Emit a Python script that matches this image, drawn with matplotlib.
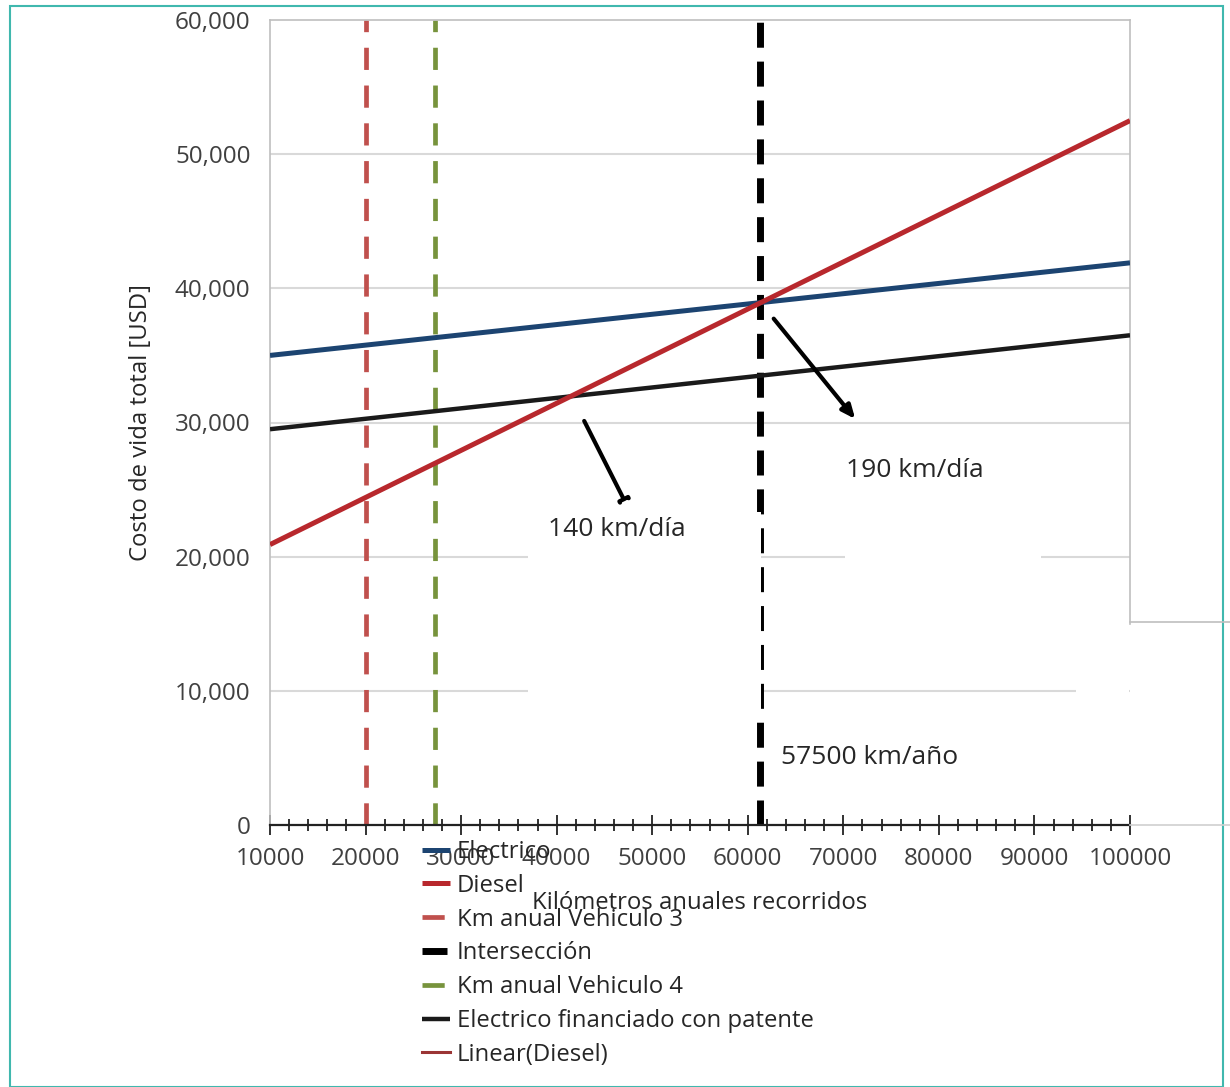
import matplotlib
matplotlib.use("Agg")
import matplotlib.pyplot as plt
from matplotlib.lines import Line2D
from matplotlib.patches import Rectangle
import numpy as np

plt.rcParams['font.family'] = ['Open Sans', 'DejaVu Sans']

# ---- data ----
km = [10000, 100000]
electrico = [35000, 41900]
diesel = [20900, 52500]
electrico_fin = [29500, 36500]
km_vehiculo3 = 20000
km_vehiculo4 = 27300
interseccion = 61300
x_ticks = [10000, 20000, 30000, 40000, 50000, 60000, 70000, 80000, 90000, 100000]
y_ticks = [0, 10000, 20000, 30000, 40000, 50000, 60000]

W, H = 1230, 1087
fig = plt.figure(figsize=(W/100, H/100), dpi=100)
ax = fig.add_axes([270/W, 1-825/H, 860/W, 805/H])
ax.set_xlim(10000, 100000)
ax.set_ylim(0, 60000)

# grid
for yv in y_ticks[1:-1]:
    ax.axhline(yv, color='#d9d9d9', lw=1.5, zorder=0)

c_blue = '#1c4471'
c_red = '#b8282d'
c_red_l = '#c0504d'
c_green = '#77933c'
c_black = '#1a1a1a'

ax.plot(km, electrico, color=c_blue, lw=3.6, label='Electrico', zorder=3, solid_capstyle='butt')
ax.plot(km, diesel, color=c_red, lw=3.6, label='Diesel', zorder=4, solid_capstyle='butt')
ax.axvline(km_vehiculo3, color=c_red_l, lw=3.4, dashes=(4.7, 3.3), label='Km anual Vehiculo 3', zorder=2)
ax.axvline(interseccion, color='#000000', lw=5, dashes=(3.6, 2.0), label='Intersección', zorder=2)
ax.axvline(km_vehiculo4, color=c_green, lw=3.4, dashes=(4.7, 3.3), label='Km anual Vehiculo 4', zorder=2)
ax.plot(km, electrico_fin, color=c_black, lw=3.2, label='Electrico financiado con patente', zorder=3, solid_capstyle='butt')
ax.plot([], [], color='#9b3535', lw=2.2, label='Linear(Diesel)')

# white masks (text boxes in original)
def px_rect(x0, y0, x1, y1):
    return Rectangle((x0/W, 1-y1/H), (x1-x0)/W, (y1-y0)/H, transform=fig.transFigure,
                     facecolor='white', edgecolor='none', zorder=5)
ax.add_patch(px_rect(528, 512, 761, 722))
ax.add_patch(px_rect(845, 480, 1041, 600))
ax.add_patch(px_rect(1076, 640, 1129, 740))

# annotations
ax.annotate('', xy=(47150, 24100), xytext=(42750, 30300),
            arrowprops=dict(arrowstyle='-[, widthB=0.35, lengthB=0.1', color='black', lw=3), zorder=6)
ax.annotate('', xy=(71430, 30100), xytext=(62530, 37900),
            arrowprops=dict(arrowstyle='-|>, head_width=0.35, head_length=0.8', color='black', lw=3), zorder=6)
ax.text(39100, 22000, '140 km/día', fontsize=19, color='#262626', va='center', ha='left', zorder=7)
ax.text(70300, 26400, '190 km/día', fontsize=19, color='#262626', va='center', ha='left', zorder=7)
ax.text(63500, 5050, '57500 km/año', fontsize=19, color='#262626', va='center', ha='left', zorder=7)

# spines
for s in ['top', 'left', 'right']:
    ax.spines[s].set_color('#bfbfbf')
    ax.spines[s].set_linewidth(1.2)
ax.spines['right'].set_bounds(15000, 60000)
ax.spines['bottom'].set_color('#222222')
ax.spines['bottom'].set_linewidth(1.6)

fig.add_artist(Line2D([1130/W, 1230/W], [1-622/H, 1-622/H], color='#bfbfbf', lw=1.2))
fig.add_artist(Line2D([1130/W, 1230/W], [1-825/H, 1-825/H], color='#cfcfcf', lw=1.2))

ax.set_xticks(x_ticks)
ax.set_xticklabels([str(v) for v in x_ticks])
ax.set_xticks(np.arange(10000, 100001, 2000), minor=True)
ax.set_yticks(y_ticks)
ax.set_yticklabels(['0'] + [f'{v:,}' for v in y_ticks[1:]])
ax.tick_params(axis='x', which='major', direction='inout', length=15, width=1.3, color='#222222',
               labelsize=17.5, labelcolor='#404040', pad=8)
ax.tick_params(axis='x', which='minor', direction='inout', length=9, width=1.3, color='#222222')
ax.tick_params(axis='y', length=0, labelsize=17.5, labelcolor='#404040', pad=14)

ax.set_ylabel('Costo de vida total [USD]', fontsize=17.2, color='#262626', labelpad=16)
fig.text(700/W, 1-903/H, 'Kilómetros anuales recorridos', fontsize=17.2, color='#262626', ha='center', va='center')

leg = fig.legend(loc='upper left', bbox_to_anchor=(422/W, 1-840/H), frameon=False,
                 fontsize=17.2, handlelength=1.17, handletextpad=0.3, labelspacing=0.41,
                 borderaxespad=0, borderpad=0)
for t in leg.get_texts():
    t.set_color('#262626')

# figure border
fig.add_artist(Rectangle((10/W, 0), 1213/W, 1-6/H, transform=fig.transFigure, fill=False,
                         edgecolor='#40b8ae', lw=1.5))

fig.savefig('out.png', dpi=100)
